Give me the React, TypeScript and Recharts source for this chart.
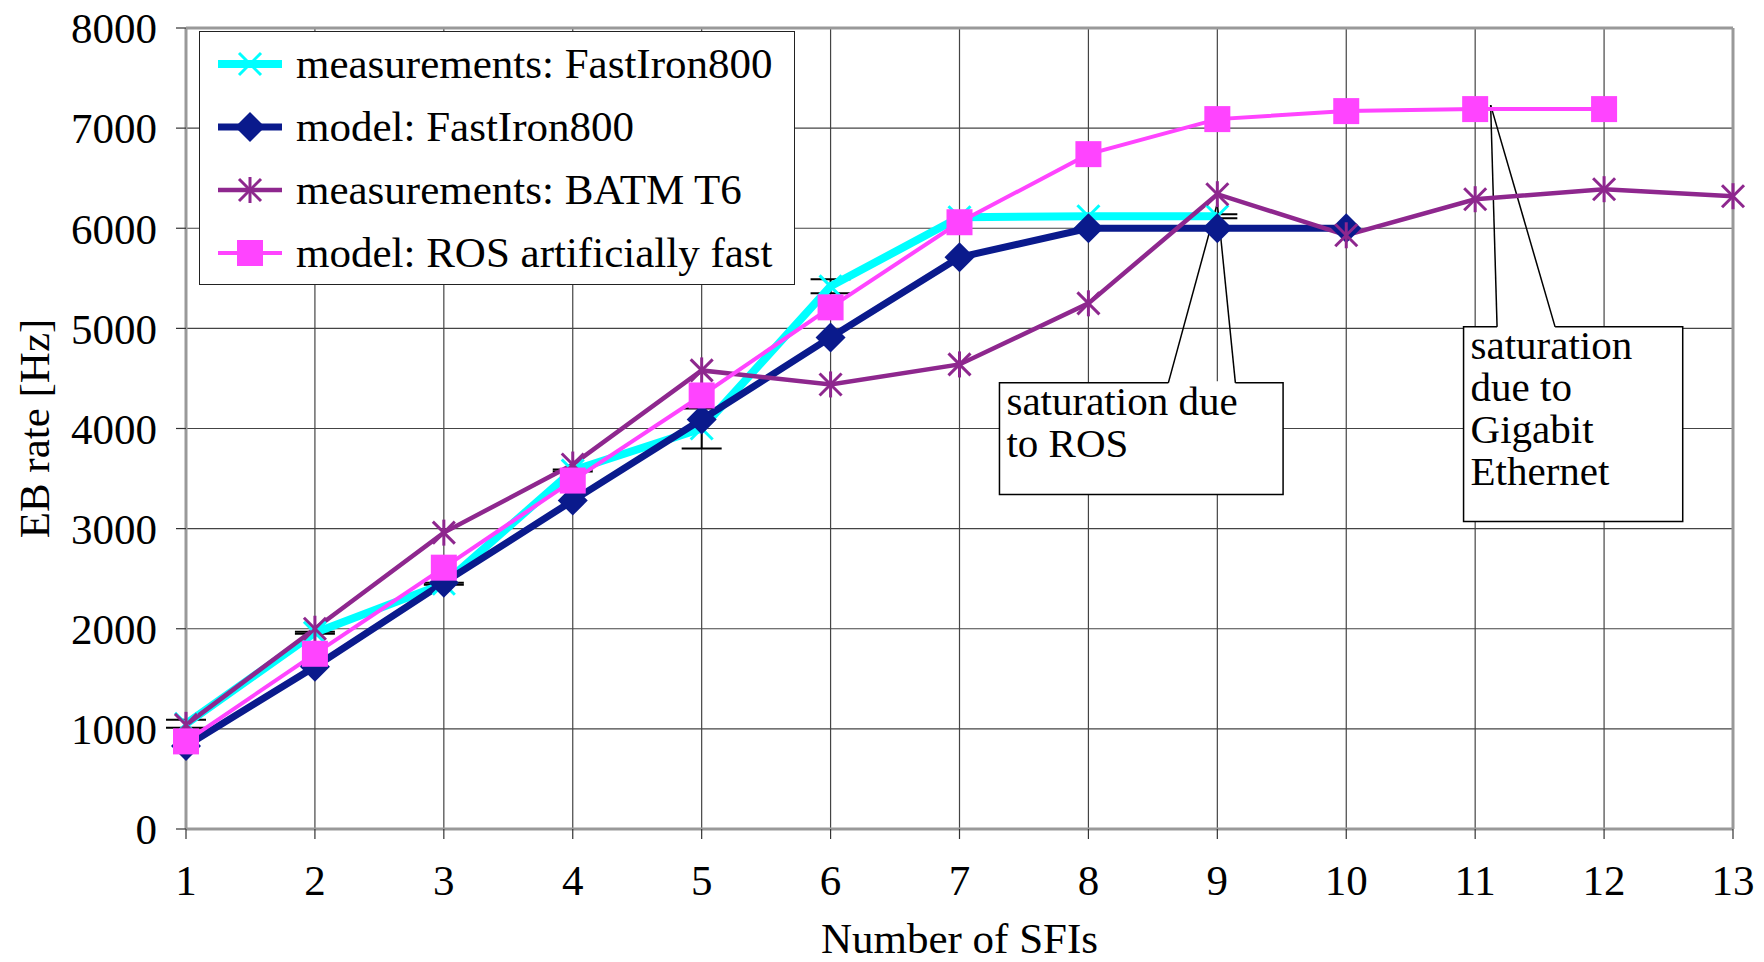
import React from "react"
import {
  LineChart,
  Line,
  XAxis,
  YAxis,
  CartesianGrid,
  Legend,
  ErrorBar,
  ReferenceArea,
  ReferenceLine,
} from "recharts"

const sfis = [1, 2, 3, 4, 5, 6, 7, 8, 9, 10, 11, 12, 13]
const measFastIron = [1050, 1960, 2450, 3580, 4000, 5420, 6110, 6120, 6120]
const measFastIronErr = [40, 10, 10, 10, 200, 70, 0, 20, 20]
const modelFastIron = [830, 1620, 2460, 3280, 4090, 4910, 5710, 6000, 6000, 6000]
const measBatm = [1040, 2000, 2960, 3640, 4580, 4440, 4640, 5250, 6340, 5930, 6290, 6390, 6320]
const modelRosFast = [875, 1750, 2610, 3480, 4330, 5210, 6060, 6740, 7090, 7170, 7190, 7190]
const yTicks = [0, 1000, 2000, 3000, 4000, 5000, 6000, 7000, 8000]

const data = sfis.map((n, i) => ({
  n,
  measFastIron: measFastIron[i],
  measFastIronErr: measFastIronErr[i],
  modelFastIron: modelFastIron[i],
  measBatm: measBatm[i],
  modelRosFast: modelRosFast[i],
}))

const CYAN = "#00ffff"
const NAVY = "#0a1a8c"
const PURPLE = "#8e278e"
const MAGENTA = "#ff44ff"
const FONT = "'Liberation Serif', 'Times New Roman', serif"
const FS = 43

function Cross({ cx, cy, color }: any) {
  return (
    <g stroke={color} strokeWidth={3}>
      <line x1={cx - 11} y1={cy - 11} x2={cx + 11} y2={cy + 11} />
      <line x1={cx - 11} y1={cy + 11} x2={cx + 11} y2={cy - 11} />
    </g>
  )
}

function Star({ cx, cy, color }: any) {
  return (
    <g stroke={color} strokeWidth={3}>
      <line x1={cx - 11} y1={cy - 11} x2={cx + 11} y2={cy + 11} />
      <line x1={cx - 11} y1={cy + 11} x2={cx + 11} y2={cy - 11} />
      <line x1={cx} y1={cy - 13} x2={cx} y2={cy + 13} />
    </g>
  )
}

function Diamond({ cx, cy, color }: any) {
  return (
    <polygon
      points={`${cx},${cy - 15} ${cx + 15},${cy} ${cx},${cy + 15} ${cx - 15},${cy}`}
      fill={color}
    />
  )
}

function Square({ cx, cy, color }: any) {
  return <rect x={cx - 13} y={cy - 13} width={26} height={26} fill={color} />
}

const dotFor = (Shape: any, color: string) => (p: any) => {
  if (p.cx == null || p.cy == null || p.value == null) return <g key={p.index} />
  return <Shape key={p.index} cx={p.cx} cy={p.cy} color={color} />
}

const legendItems = [
  { label: "measurements: FastIron800", color: CYAN, width: 8, Shape: Cross },
  { label: "model: FastIron800", color: NAVY, width: 7, Shape: Diamond },
  { label: "measurements: BATM T6", color: PURPLE, width: 4.5, Shape: Star },
  { label: "model: ROS artificially fast", color: MAGENTA, width: 4, Shape: Square },
]

function LegendBox() {
  return (
    <div
      style={{
        border: "1.5px solid #222",
        background: "#fff",
        width: 596,
        height: 254,
        boxSizing: "border-box",
        fontFamily: FONT,
        fontSize: FS,
      }}
    >
      {legendItems.map((it) => (
        <div
          key={it.label}
          style={{ height: 63, display: "flex", alignItems: "center", whiteSpace: "nowrap" }}
        >
          <svg width={96} height={40} style={{ flex: "none" }}>
            <line x1={18} y1={20} x2={82} y2={20} stroke={it.color} strokeWidth={it.width} />
            <it.Shape cx={50} cy={20} color={it.color} />
          </svg>
          <span style={{ color: "#000" }}>{it.label}</span>
        </div>
      ))}
    </div>
  )
}

// multi-line note text inside a callout box
const noteLabel = (lines: string[]) => (props: any) => {
  const vb = props.viewBox
  return (
    <text x={vb.x + 7} y={vb.y + 32} fontFamily={FONT} fontSize={41} fill="#000">
      {lines.map((t, i) => (
        <tspan key={i} x={vb.x + 7} dy={i === 0 ? 0 : 42}>
          {t}
        </tspan>
      ))}
    </text>
  )
}

export default function App() {
  return (
    <div style={{ position: "absolute", left: 0, top: 0, background: "#fff" }}>
      <LineChart
        width={1764}
        height={962}
        data={data}
        margin={{ top: 28, right: 31, bottom: 0, left: 0 }}
        style={{ fontFamily: FONT }}
      >
        <CartesianGrid stroke="#444" strokeWidth={1.2} />
        <XAxis
          dataKey="n"
          type="number"
          domain={[1, 13]}
          ticks={sfis}
          height={133}
          tickSize={10}
          tickMargin={25}
          stroke="#999"
          strokeWidth={3}
          tickLine={{ stroke: "#333", strokeWidth: 1.2 }}
          tick={{ fill: "#000", fontSize: FS, fontFamily: FONT }}
          label={{
            content: (p: any) => (
              <text
                x={p.viewBox.x + p.viewBox.width / 2}
                y={p.viewBox.y + 124}
                textAnchor="middle"
                fontFamily={FONT}
                fontSize={FS}
                fill="#000"
              >
                Number of SFIs
              </text>
            ),
          }}
        />
        <YAxis
          type="number"
          domain={[0, 8000]}
          ticks={yTicks}
          width={186}
          tickSize={10}
          tickMargin={19}
          stroke="#999"
          strokeWidth={3}
          tickLine={{ stroke: "#333", strokeWidth: 1.2 }}
          tick={{ fill: "#000", fontSize: FS, fontFamily: FONT }}
          label={{
            content: (p: any) => {
              const x = p.viewBox.x + 34
              const y = p.viewBox.y + p.viewBox.height / 2
              return (
                <text
                  x={x}
                  y={y}
                  transform={`rotate(-90 ${x} ${y})`}
                  textAnchor="middle"
                  dominantBaseline="central"
                  fontFamily={FONT}
                  fontSize={FS}
                  fill="#000"
                >
                  EB rate [Hz]
                </text>
              )
            },
          }}
        />
        <ReferenceLine x={13} stroke="#999" strokeWidth={3} />
        <ReferenceLine y={8000} stroke="#999" strokeWidth={3} />

        <ReferenceArea
          x1={7.31}
          x2={9.51}
          y1={3340}
          y2={4456}
          fill="#fff"
          fillOpacity={1}
          stroke="#000"
          strokeWidth={1.5}
          label={{ content: noteLabel(["saturation due", "to ROS"]) }}
        />
        <ReferenceArea
          x1={10.91}
          x2={12.61}
          y1={3070}
          y2={5015}
          fill="#fff"
          fillOpacity={1}
          stroke="#000"
          strokeWidth={1.5}
          label={{ content: noteLabel(["saturation", "due to", "Gigabit", "Ethernet"]) }}
        />
        <ReferenceLine
          segment={[{ x: 8.62, y: 4456 }, { x: 9.14, y: 4456 }]}
          stroke="#fff"
          strokeWidth={3}
        />
        <ReferenceLine
          segment={[{ x: 8.62, y: 4456 }, { x: 9.0, y: 6250 }]}
          stroke="#000"
          strokeWidth={1.5}
        />
        <ReferenceLine
          segment={[{ x: 9.14, y: 4456 }, { x: 9.0, y: 6250 }]}
          stroke="#000"
          strokeWidth={1.5}
        />
        <ReferenceLine
          segment={[{ x: 11.17, y: 5015 }, { x: 11.62, y: 5015 }]}
          stroke="#fff"
          strokeWidth={3}
        />
        <ReferenceLine
          segment={[{ x: 11.17, y: 5015 }, { x: 11.12, y: 7230 }]}
          stroke="#000"
          strokeWidth={1.5}
        />
        <ReferenceLine
          segment={[{ x: 11.62, y: 5015 }, { x: 11.12, y: 7230 }]}
          stroke="#000"
          strokeWidth={1.5}
        />

        <Line
          dataKey="measFastIron"
          stroke={CYAN}
          strokeWidth={8}
          dot={dotFor(Cross, CYAN)}
          isAnimationActive={false}
        >
          <ErrorBar
            dataKey="measFastIronErr"
            direction="y"
            width={20}
            stroke="#000"
            strokeWidth={2}
            isAnimationActive={false}
          />
        </Line>
        <Line
          dataKey="modelFastIron"
          stroke={NAVY}
          strokeWidth={7}
          dot={dotFor(Diamond, NAVY)}
          isAnimationActive={false}
        />
        <Line
          dataKey="measBatm"
          stroke={PURPLE}
          strokeWidth={4.5}
          dot={dotFor(Star, PURPLE)}
          isAnimationActive={false}
        />
        <Line
          dataKey="modelRosFast"
          stroke={MAGENTA}
          strokeWidth={4}
          dot={dotFor(Square, MAGENTA)}
          isAnimationActive={false}
        />
        <Legend
          layout="vertical"
          align="center"
          verticalAlign="middle"
          content={() => <LegendBox />}
          wrapperStyle={{ left: 199, top: 31, width: 598, height: 256 }}
        />
      </LineChart>
    </div>
  )
}
